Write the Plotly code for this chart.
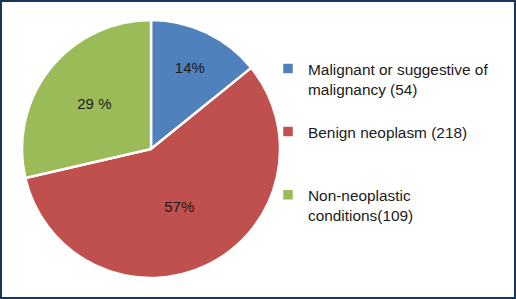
import plotly.graph_objects as go

categories = ["Malignant or suggestive of<br>malignancy (54)<br> ",
              "Benign neoplasm (218)<br> <br> ",
              "Non-neoplastic<br>conditions(109)"]
counts = [54, 218, 109]
slice_labels = ["14%", "57%", "29 %"]
colors = ["#4F81BD", "#C0504D", "#9BBB59"]

W, H = 516, 299
cx, cy, r = 151, 149, 129

fig = go.Figure(go.Pie(
    labels=categories,
    values=counts,
    text=slice_labels,
    textinfo="text",
    textposition="inside",
    insidetextorientation="horizontal",
    sort=False,
    direction="clockwise",
    rotation=0,
    marker=dict(colors=colors, line=dict(color="white", width=2.5)),
    textfont=dict(family="Liberation Sans, Arial", size=15, color="#1a1a1a"),
    domain=dict(x=[(cx - r) / W, (cx + r) / W], y=[(H - cy - r) / H, (H - cy + r) / H]),
    hoverinfo="label+value",
))

fig.update_layout(
    width=W, height=H,
    margin=dict(l=0, r=0, t=0, b=0),
    paper_bgcolor="white",
    font=dict(family="Liberation Sans, Arial", size=15, color="#1a1a1a"),
    legend=dict(x=268 / W, y=1 - 52 / H, xanchor="left", yanchor="top",
                valign="top", itemwidth=30, bgcolor="rgba(0,0,0,0)",
                font=dict(size=15.4)),
    shapes=[dict(type="rect", xref="paper", yref="paper",
                 x0=1 / W, x1=1 - 1 / W, y0=1 / H, y1=1 - 1 / H,
                 line=dict(color="#17375E", width=2), fillcolor="rgba(0,0,0,0)")],
)

fig.write_html("out.html",
               config={"displayModeBar": False},
               post_script="document.body.style.margin='0';document.body.style.padding='0';")
